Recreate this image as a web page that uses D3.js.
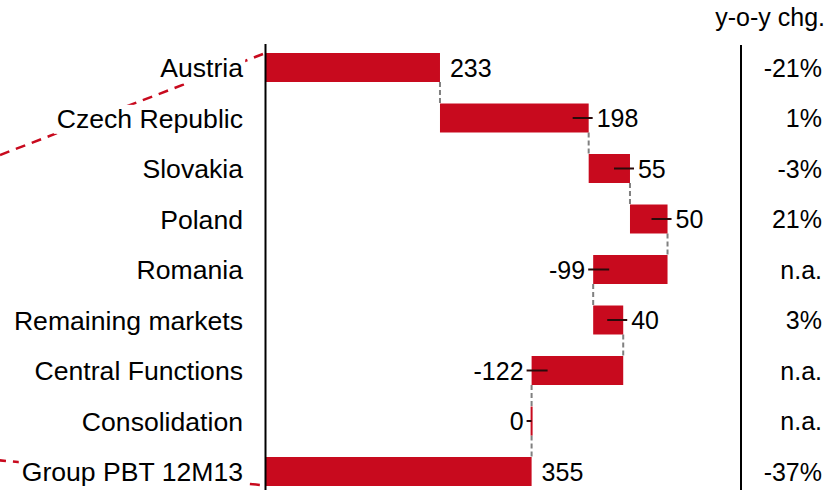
<!DOCTYPE html>
<html>
<head>
<meta charset="utf-8">
<script src="https://cdn.jsdelivr.net/npm/d3@7"></script>
<style>
  html, body { margin: 0; padding: 0; background: #fff; }
  svg { display: block; }
  text { font-family: "Liberation Sans", Arial, sans-serif; fill: #000; }
</style>
</head>
<body>
<svg id="chart" width="830" height="490"></svg>
<script>
// ---- data ----
const categories = ["Austria", "Czech Republic", "Slovakia", "Poland", "Romania",
  "Remaining markets", "Central Functions", "Consolidation", "Group PBT 12M13"];
const values = [233, 198, 55, 50, -99, 40, -122, 0, 355];
const barTypes = ["start", "delta", "delta", "delta", "delta", "delta", "delta", "delta", "total"];
const yoyLabels = ["-21%", "1%", "-3%", "21%", "n.a.", "3%", "n.a.", "n.a.", "-37%"];
const yoyTitle = "y-o-y chg.";

// ---- layout ----
const svg = d3.select("#chart");
const red = "#c80a1e";

const x = d3.scaleLinear().domain([0, 355]).range([265, 531.6]);
const y = d3.scaleBand().domain(categories).range([42.25, 496.75])
  .paddingInner(0.426).paddingOuter(0.213);
const bw = y.bandwidth();

// compute waterfall extents
let cum = 0;
const rows = categories.map((c, i) => {
  const v = values[i];
  let lo, hi, end;
  if (barTypes[i] === "delta") {
    const s = cum; cum += v;
    lo = Math.min(s, cum); hi = Math.max(s, cum); end = cum;
  } else {
    lo = 0; hi = v; cum = v; end = v;
  }
  return { c, v, type: barTypes[i], lo, hi, end, yoy: yoyLabels[i] };
});

// red dashed callout lines (drawn first, occluded by label backgrounds)
const callout = svg.append("g");
callout.append("line")
  .attr("x1", 0).attr("y1", 155)
  .attr("x2", x(0) - 2).attr("y2", y(categories[0]) + 1)
  .attr("stroke", red).attr("stroke-width", 2.5).attr("stroke-dasharray", "10 7");
callout.append("line")
  .attr("x1", -4).attr("y1", 460)
  .attr("x2", x(0) - 4).attr("y2", y(categories[8]) + bw - 1)
  .attr("stroke", red).attr("stroke-width", 2.5).attr("stroke-dasharray", "10 7");

// connectors
const conn = svg.append("g");
for (let i = 0; i < rows.length - 1; i++) {
  const xe = x(rows[i].end);
  conn.append("line")
    .attr("x1", xe).attr("x2", xe)
    .attr("y1", y(rows[i].c) + bw).attr("y2", y(rows[i + 1].c))
    .attr("stroke", "#808080").attr("stroke-width", 2).attr("stroke-dasharray", "5 3");
}

// bars
svg.append("g").selectAll("rect").data(rows).join("rect")
  .attr("x", d => d.hi === d.lo ? x(d.lo) - 1 : x(d.lo))
  .attr("y", d => y(d.c))
  .attr("width", d => Math.max(2, x(d.hi) - x(d.lo)))
  .attr("height", bw)
  .attr("fill", red);

// leader ticks and value labels
const vl = svg.append("g");
rows.forEach(d => {
  const cy = y(d.c) + bw / 2;
  const w = x(d.hi) - x(d.lo);
  const positive = d.v > 0;
  if (d.type === "delta") {
    if (positive) {
      vl.append("line").attr("x1", x(d.hi) - Math.min(16, w)).attr("x2", x(d.hi) + 4)
        .attr("y1", cy).attr("y2", cy).attr("stroke", "#2a0a0a").attr("stroke-width", 2);
    } else {
      vl.append("line").attr("x1", x(d.lo) - 5).attr("x2", x(d.lo) + Math.min(16, w))
        .attr("y1", cy).attr("y2", cy).attr("stroke", "#2a0a0a").attr("stroke-width", 2);
    }
  }
  const t = vl.append("text").attr("y", cy).attr("dy", "0.37em")
    .style("font-size", "25px").text(d.v);
  if (positive) {
    t.attr("x", x(d.hi) + (d.type === "delta" ? 8 : 10)).attr("text-anchor", "start");
  } else {
    t.attr("x", x(d.lo) - 8).attr("text-anchor", "end");
  }
});

// category labels with white backgrounds
const cl = svg.append("g");
rows.forEach(d => {
  const g = cl.append("g");
  const t = g.append("text").attr("x", 243).attr("y", y(d.c) + bw / 2).attr("dy", "0.37em")
    .attr("text-anchor", "end").style("font-size", "26.6px").text(d.c);
  const bb = t.node().getBBox();
  g.insert("rect", "text").attr("x", bb.x - 3).attr("y", bb.y + 1)
    .attr("width", bb.width + 5).attr("height", bb.height - 1).attr("fill", "#fff");
});

// axis lines
svg.append("line").attr("x1", 265.5).attr("x2", 265.5).attr("y1", 44).attr("y2", 490)
  .attr("stroke", "#000").attr("stroke-width", 2);
svg.append("line").attr("x1", 741).attr("x2", 741).attr("y1", 45).attr("y2", 490)
  .attr("stroke", "#000").attr("stroke-width", 2);

// y-o-y column
svg.append("text").attr("x", 825).attr("y", 26).attr("text-anchor", "end")
  .style("font-size", "25px").text(yoyTitle);
svg.append("g").selectAll("text").data(rows).join("text")
  .attr("x", 822).attr("y", d => y(d.c) + bw / 2).attr("dy", "0.37em")
  .attr("text-anchor", "end").style("font-size", "25px").text(d => d.yoy);
</script>
</body>
</html>
